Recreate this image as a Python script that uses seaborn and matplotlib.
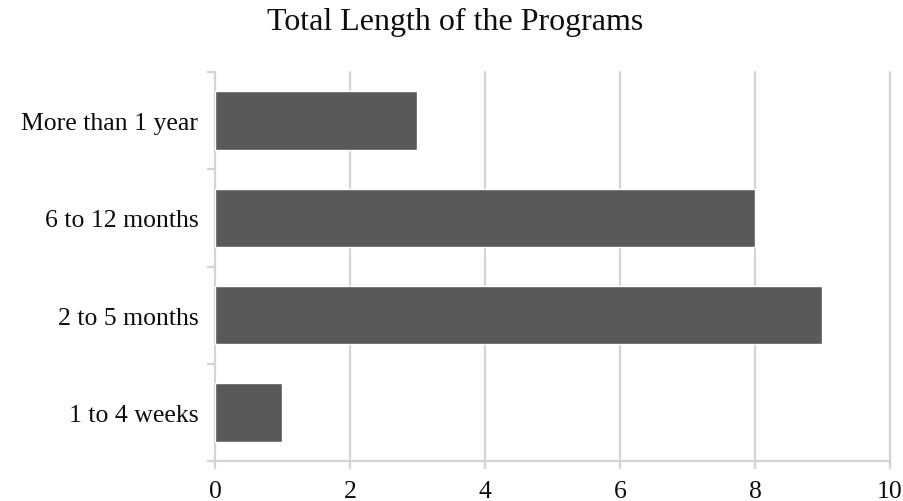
import matplotlib
matplotlib.use("Agg")
import matplotlib.pyplot as plt
import seaborn as sns
import pandas as pd

categories = ["More than 1 year", "6 to 12 months", "2 to 5 months", "1 to 4 weeks"]
counts = [3, 8, 9, 1]
x_ticks = [0, 2, 4, 6, 8, 10]

df = pd.DataFrame({"length": categories, "count": counts})

sns.set_theme(style="white")
plt.rcParams["font.family"] = ["Liberation Serif", "DejaVu Serif"]

fig = plt.figure(figsize=(9.04, 5.02), dpi=100)
ax = fig.add_axes([215 / 904, 1 - 462 / 502, (890 - 215) / 904, (462 - 73) / 502])

grid_c = "#d4d4d4"
sns.barplot(data=df, y="length", x="count", order=categories, orient="h",
            color="#595959", saturation=1, width=0.6, ax=ax, zorder=3)

ax.set_xlim(0, 10)
ax.set_ylim(3.5, -0.5)
ax.set_xticks(x_ticks)
ax.set_xticklabels([str(t) for t in x_ticks])
ax.set_xlabel("")
ax.set_ylabel("")

# vertical gridlines reaching slightly below the baseline
for t in x_ticks[1:]:
    ax.plot([t, t], [-0.5, 3.56], color=grid_c, lw=1.6, zorder=1, clip_on=False)

for s in ["top", "right"]:
    ax.spines[s].set_visible(False)
ax.spines["bottom"].set_color(grid_c)
ax.spines["bottom"].set_linewidth(1.6)
ax.spines["left"].set_color(grid_c)
ax.spines["left"].set_linewidth(1.6)

# category separators as tick marks on the left axis
ax.set_yticks([0, 1, 2, 3])
ax.set_yticklabels(categories)
ax.set_yticks([-0.5, 0.5, 1.5, 2.5, 3.5], minor=True)
ax.tick_params(axis="y", which="major", length=0, pad=12, labelsize=18.5, labelcolor="#0d0d0d")
ax.tick_params(axis="y", which="minor", length=6, width=1.6, color=grid_c, left=True)
ax.tick_params(axis="x", which="major", length=6, width=1.6, color=grid_c, pad=8,
               labelsize=18.5, labelcolor="#0d0d0d", bottom=True)

fig.text(0.503, 1 - 22 / 502, "Total Length of the Programs", ha="center", va="center",
         fontsize=23, color="#0d0d0d")

fig.savefig("out.png", dpi=100)
